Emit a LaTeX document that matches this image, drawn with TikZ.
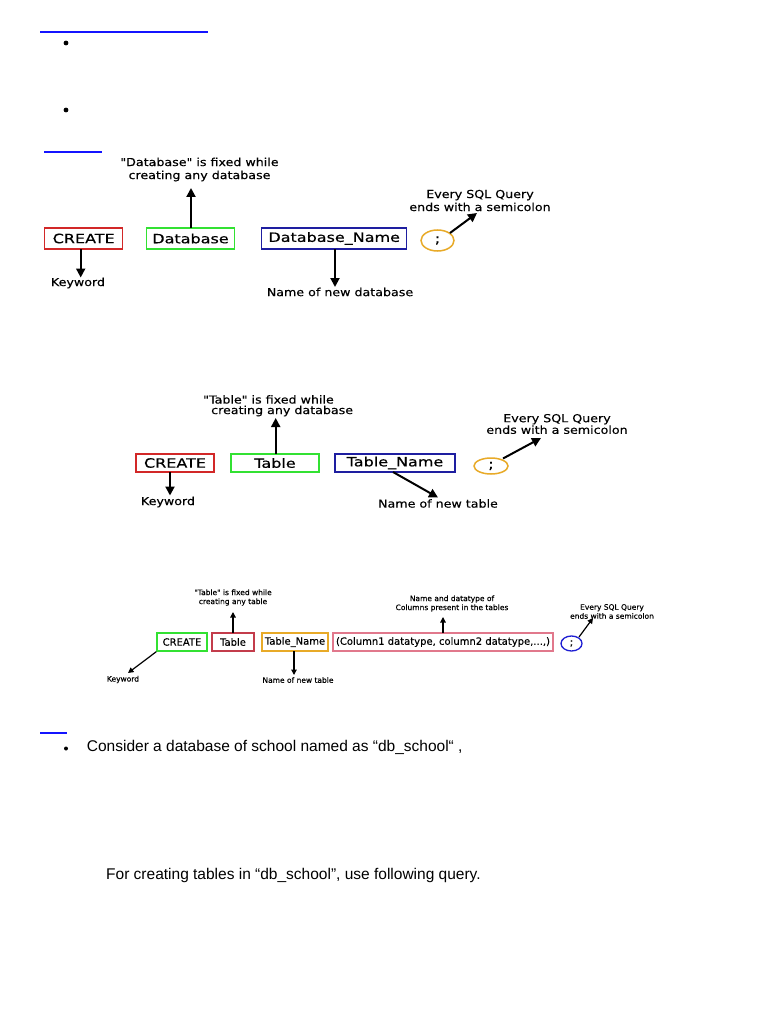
\documentclass[tikz,border=0pt]{standalone}
\usepackage{fontspec}
\setmainfont{Liberation Sans}
\newfontfamily\dvbox[FakeStretch=1.25,FakeBold=0.4]{DejaVu Sans}
\newfontfamily\dvlab[FakeStretch=1.15,FakeBold=0.3]{DejaVu Sans}
\newfontfamily\dvsmall[FakeBold=0.3]{DejaVu Sans}
\usetikzlibrary{arrows.meta,shapes.geometric}
\definecolor{cred}{RGB}{210,40,40}
\definecolor{cgreen}{RGB}{50,225,50}
\definecolor{cnavy}{RGB}{30,30,160}
\definecolor{corange}{RGB}{232,170,40}
\definecolor{cdred}{RGB}{195,60,75}
\definecolor{cpink}{RGB}{225,120,140}
\definecolor{cblue}{RGB}{30,30,210}
\definecolor{lblue}{RGB}{20,20,255}
\begin{document}
\begin{tikzpicture}[x=1pt,y=-1pt,
  bigbox/.style={draw, line width=1.5pt, inner sep=0, minimum height=21pt, font=\dvbox\fontsize{12.8}{14}\selectfont},
  midbox/.style={draw, line width=1.5pt, inner sep=0, minimum height=18pt, font=\dvbox\fontsize{12.8}{14}\selectfont},
  smallbox/.style={draw, line width=1.3pt, inner sep=0, minimum height=18pt, font=\dvsmall\fontsize{10}{12}\selectfont},
  lab/.style={inner sep=0, align=center, font=\dvlab\fontsize{11}{13}\selectfont},
  lab2/.style={inner sep=0, align=center, font=\dvlab\fontsize{11}{10.5}\selectfont},
  slab/.style={inner sep=0, align=center, font=\dvsmall\fontsize{7.5}{9}\selectfont},
  arr/.style={line width=2pt, -{Triangle[width=9pt,length=9pt]}},
  sarr/.style={line width=1.2pt, -{Triangle[width=5.5pt,length=5.5pt]}},
  body/.style={inner sep=0, anchor=base west, font=\fontsize{15.5}{18}\selectfont},
  bline/.style={draw=lblue, line width=2pt}
]
\fill[white] (0,0) rectangle (768,1024);
\useasboundingbox (0,0) rectangle (768,1024);

% top section
\draw[bline] (40,32) -- (208,32);
\fill (66,43) circle (2.4);
\fill (66,110) circle (2.4);
\draw[bline] (44,152) -- (102,152);

% ---------- Diagram 1 ----------
\node[bigbox, draw=cred, minimum width=78pt] (c1) at (83.7,238.5) {CREATE};
\node[bigbox, draw=cgreen, minimum width=87.6pt] (d1) at (190.5,238.5) {Database};
\node[bigbox, draw=cnavy, minimum width=145pt] (n1) at (334.2,238.5) {Database\_Name};
\node[ellipse, draw=corange, line width=1.5pt, inner sep=0, minimum width=33pt, minimum height=21pt, font=\dvbox\fontsize{12.8}{14}\selectfont] (s1) at (437.5,240.5) {;};
\node[lab] (t1) at (199.5,169.5) {"Database" is fixed while\\creating any database};
\node[lab] (k1) at (78,283) {Keyword};
\node[lab] (nn1) at (340,292) {Name of new database};
\node[lab] (e1) at (480,200.5) {Every SQL Query\\ends with a semicolon};
\coordinate (a1) at (191,188);
\coordinate (b1) at (80.7,277.5);
\coordinate (f1) at (335,287);
\coordinate (g1) at (477,213);
\coordinate (h1) at (450,233);
\draw[arr] (191,228) -- (a1);
\draw[arr] (80.7,249) -- (b1);
\draw[arr] (335,249) -- (f1);
\draw[arr] (h1) -- (g1);

% ---------- Diagram 2 ----------
\node[midbox, draw=cred, minimum width=78pt] (c2) at (175,463) {CREATE};
\node[midbox, draw=cgreen, minimum width=88pt] (tb2) at (275,463) {Table};
\node[midbox, draw=cnavy, minimum width=120pt] (tn2) at (395,463) {Table\_Name};
\node[ellipse, draw=corange, line width=1.5pt, inner sep=0, minimum width=34pt, minimum height=16pt, font=\dvbox\fontsize{12.8}{14}\selectfont] (s2) at (491,466) {;};
\node[lab2, align=left, anchor=north west] (t2) at (203,395) {"Table" is fixed while\\\hspace*{8pt}creating any database};
\node[lab] (k2) at (168,502) {Keyword};
\node[lab] (nn2) at (438,503.5) {Name of new table};
\node[lab2] (e2) at (557,424) {Every SQL Query\\ends with a semicolon};
\coordinate (a2) at (275.7,418);
\coordinate (b2) at (170,495.5);
\coordinate (f2) at (438,497.5);
\coordinate (g2) at (541,438);
\draw[arr] (275.7,454) -- (a2);
\draw[arr] (170,472) -- (b2);
\draw[arr] (393,472) -- (f2);
\draw[arr] (503,458.5) -- (g2);

% ---------- Diagram 3 ----------
\node[smallbox, draw=cgreen, minimum width=50pt] (c3) at (182,642) {CREATE};
\node[smallbox, draw=cdred, minimum width=42pt] (tb3) at (233,642) {Table};
\node[smallbox, draw=corange, minimum width=66pt] (tn3) at (295,642) {Table\_Name};
\node[smallbox, draw=cpink, minimum width=220pt] (col3) at (443,642) {(Column1 datatype, column2 datatype,...,)};
\node[ellipse, draw=cblue, line width=1.3pt, inner sep=0, minimum width=21pt, minimum height=15pt, font=\dvsmall\fontsize{10}{12}\selectfont] (s3) at (571.5,643.5) {;};
\node[slab] (t3) at (233,597.5) {"Table" is fixed while\\creating any table};
\node[slab] (k3) at (123,679.5) {Keyword};
\node[slab] (nn3) at (298,680) {Name of new table};
\node[slab] (cl3) at (452,603.5) {Name and datatype of\\Columns present in the tables};
\node[slab] (e3) at (612,611.5) {Every SQL Query\\ends with a semicolon};
\coordinate (a3) at (233,612);
\coordinate (b3) at (128,673);
\coordinate (f3) at (294,675);
\coordinate (h3) at (443,617);
\coordinate (g3) at (593,618);
\draw[sarr] (233,633) -- (a3);
\draw[sarr] (c3.south west) -- (b3);
\draw[sarr] (294,651) -- (f3);
\draw[sarr] (443,633) -- (h3);
\draw[sarr] (579,637) -- (g3);

% ---------- bottom text ----------
\draw[bline] (40,733) -- (67,733);
\fill (66,748.5) circle (2);
\node[body] (p1) at (86.7,751.7) {Consider a database of school named as “db\_school“ ,};
\node[body] (p2) at (106,879.3) {For creating tables in “db\_school”, use following query.};
\end{tikzpicture}
\end{document}
